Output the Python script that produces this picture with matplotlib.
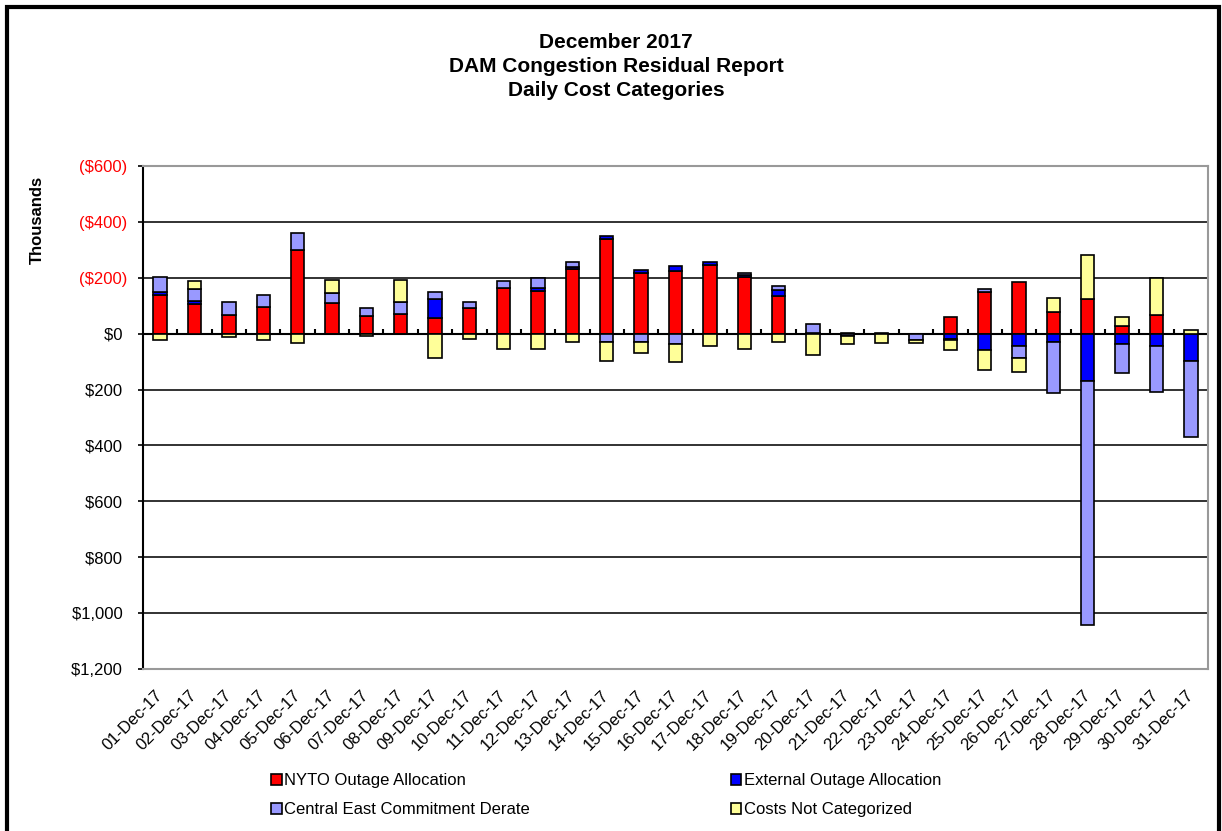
import numpy as np
import matplotlib.pyplot as plt
from matplotlib.patches import Rectangle
from matplotlib.ticker import FuncFormatter

plt.rcParams['font.family'] = ['Liberation Sans', 'DejaVu Sans']

days = ['%02d-Dec-17' % d for d in range(1, 32)]

# $ thousands; negative values plot upward (axis is reversed)
nyto = [-139, -107, -67, -96, -300, -110, -62, -71, -56, -92,
        -163, -152, -233, -337, -216, -226, -246, -203, -136, -2,
        -4, -3, 0, -58, -149, -184, -77, -125, -29, -67, 0]
external = [-10, -9, 0, 0, 0, 0, 0, 0, -69, 0,
            0, -10, -6, -11, -11, -15, -10, -6, -22, 0,
            2, 0, 0, 18, 59, 43, 30, 169, 38, 44, 97]
central = [-54, -44, -45, -44, -59, -34, -29, -44, -25, -20,
           -25, -36, -17, 30, 29, 38, 0, -8, -11, -34,
           6, 0, 24, 6, -11, 45, 182, 874, 102, 164, 273]
other = [24, -28, 12, 24, 35, -49, 10, -78, 88, 19,
         54, 54, 30, 67, 39, 64, 44, 54, 30, 78,
         30, 34, 10, 35, 72, 48, -49, -156, -29, -132, -14]

series = [
    ('NYTO Outage Allocation', nyto, '#FF0000'),
    ('External Outage Allocation', external, '#0000FF'),
    ('Central East Commitment Derate', central, '#9999FF'),
    ('Costs Not Categorized', other, '#FFFF99'),
]

fig = plt.figure(figsize=(12.22, 8.31), dpi=100)
ax = fig.add_axes([143 / 1222, 1 - 669 / 831, 1065 / 1222, 503 / 831])

x = np.arange(len(days))
pos_base = np.zeros(len(days))
neg_base = np.zeros(len(days))
handles = []
for name, vals, col in series:
    v = np.array(vals, dtype=float)
    bottom = np.where(v >= 0, pos_base, neg_base)
    b = ax.bar(x, v, 0.39, bottom=bottom, color=col, edgecolor='black',
               linewidth=1.2, label=name, zorder=3)
    handles.append(b)
    pos_base += np.where(v >= 0, v, 0)
    neg_base += np.where(v < 0, v, 0)

ax.set_xlim(-0.5, len(days) - 0.5)
ax.set_ylim(1200, -600)
ax.set_yticks(np.arange(-600, 1201, 200))


def money(v, p):
    if v < 0:
        return '(${:,.0f})'.format(-v)
    return '${:,.0f} '.format(v)


ax.yaxis.set_major_formatter(FuncFormatter(money))
ax.tick_params(axis='y', labelsize=12, length=3.6, width=1.2, direction='out', pad=8)
for lab, t in zip(ax.get_yticklabels(), ax.get_yticks()):
    if t < 0:
        lab.set_color('#FF0000')

ax.set_xticks(x)
ax.set_xticklabels(days, rotation=45, ha='right', va='center', rotation_mode='anchor')
ax.tick_params(axis='x', labelsize=12, length=0, pad=17)

ax.grid(axis='y', color='#222222', linewidth=1.3, zorder=1)
ax.axhline(0, color='black', linewidth=1.5, zorder=2)
ax.vlines(x[:-1] + 0.5, 0, -16, color='black', linewidth=1.5, zorder=2)

for s in ['top', 'right', 'bottom']:
    ax.spines[s].set_color('#999999')
    ax.spines[s].set_linewidth(1.5)
ax.spines['left'].set_color('black')
ax.spines['left'].set_linewidth(1.5)

fig.text(37 / 1222, 1 - 220 / 831, 'Thousands', rotation=90, ha='center',
         va='center', fontsize=12, fontweight='bold')

fig.text(0.504, 1 - 43 / 831, 'December 2017', ha='center', va='center',
         fontsize=15, fontweight='bold')
fig.text(0.504, 1 - 67 / 831, 'DAM Congestion Residual Report', ha='center',
         va='center', fontsize=15, fontweight='bold')
fig.text(0.504, 1 - 91 / 831, 'Daily Cost Categories', ha='center',
         va='center', fontsize=15, fontweight='bold')

fig.legend(handles=[handles[0], handles[2], handles[1], handles[3]],
           labels=[series[0][0], series[2][0], series[1][0], series[3][0]],
           ncol=2, frameon=False, fontsize=12, loc='center left',
           bbox_to_anchor=(264 / 1222, 1 - 795 / 831), handlelength=0.65,
           handleheight=0.65, handletextpad=0.15, columnspacing=12.05,
           labelspacing=0.85, borderaxespad=0)

fig.patches.append(Rectangle((7 / 1222, -0.05), 1212 / 1222, 1.05 - 7.5 / 831,
                             transform=fig.transFigure, fill=False,
                             edgecolor='black', linewidth=3))

fig.savefig('out.png', dpi=100)
